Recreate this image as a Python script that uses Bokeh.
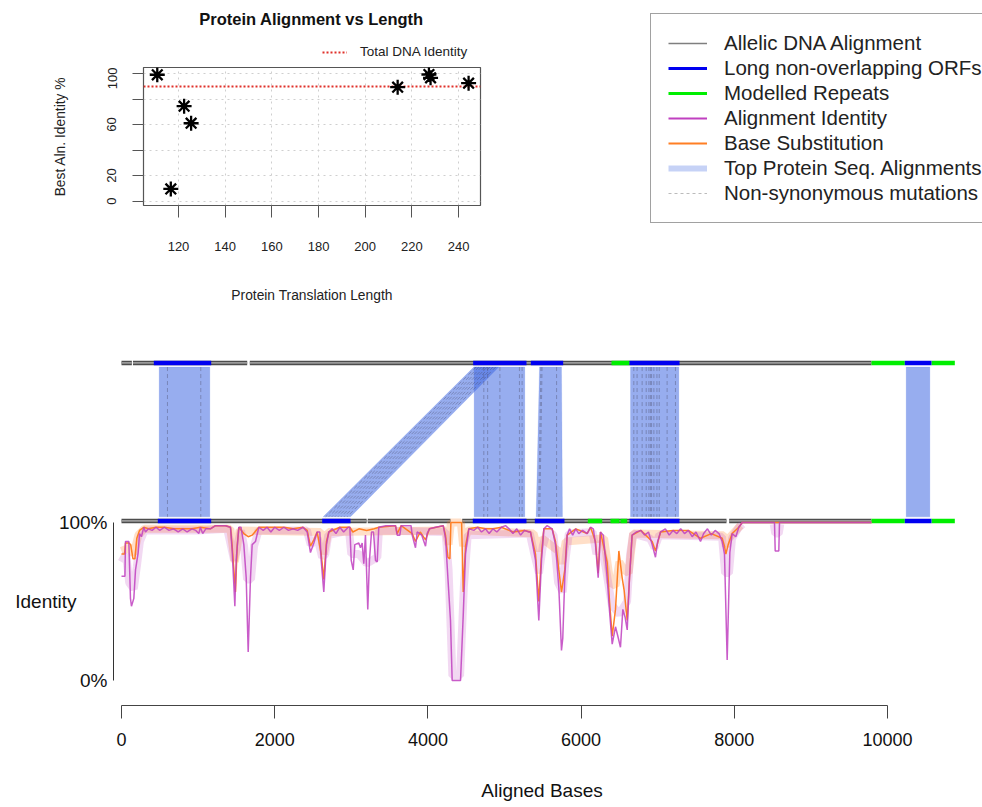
from bokeh.plotting import figure
from bokeh.layouts import column, row
from bokeh.models import Range1d, FixedTicker, Legend, LegendItem, LinearAxis, Label
from bokeh.embed import file_html
from bokeh.resources import INLINE

FONT = "Liberation Sans"
NAN = float("nan")

# ---------------- Inset scatter data ----------------
PROT_LEN = [110.9, 116.7, 122.4, 125.4, 213.9, 227.3, 228.0, 244.3]
PROT_IDENT = [99.0, 9.5, 74.4, 61.0, 89.3, 99.2, 96.6, 92.4]
TOTAL_DNA_IDENTITY = 89.8
SCATTER_X_TICKS = [120, 140, 160, 180, 200, 220, 240]
SCATTER_Y_TICKS = [0, 20, 40, 60, 80, 100]

# ---------------- Main plot data ----------------
TOP_TRACK = 201
BOTTOM_TRACK = 101

TOP_GREY_START = [0, 150, 1675]
TOP_GREY_END = [135, 1641, 9791]
TOP_ORF_START = [422, 4591, 5344, 6632, 10226]
TOP_ORF_END = [1171, 5287, 5766, 7285, 10574]
TOP_REP_START = [6397, 9791, 10574]
TOP_REP_END = [6632, 10226, 10879]

BOT_GREY_START = [0, 3215, 4448, 7933]
BOT_GREY_END = [3200, 4295, 7898, 9791]
BOT_ORF_START = [474, 2620, 4586, 5396, 6632, 10226]
BOT_ORF_END = [1171, 2990, 5287, 5783, 7285, 10574]
BOT_REP_START = [6088, 6384, 6514, 9791, 10574]
BOT_REP_END = [6275, 6501, 6601, 10226, 10879]

ALN_TOP_START = [492, 4600, 4604, 5457, 6645, 10244]
ALN_TOP_END = [1153, 4925, 5265, 5744, 7276, 10553]
ALN_BOT_START = [492, 2633, 4604, 5413, 6645, 10244]
ALN_BOT_END = [1153, 2990, 5265, 5757, 7276, 10553]

MUT_TOP = [600, 1035,
           4630, 4665, 4700, 4740, 4775, 4810, 4850, 4885,
           4730, 4780, 4940, 5195, 5230,
           5475, 5490, 5680,
           6688, 6731, 6797, 6850, 6885, 6905, 6920, 6950, 6990, 7020, 7123, 7232]
MUT_BOT = [600, 1035,
           2665, 2705, 2745, 2785, 2825, 2865, 2905, 2945,
           4730, 4780, 4940, 5195, 5230,
           5445, 5460, 5680,
           6688, 6731, 6797, 6850, 6885, 6905, 6920, 6950, 6990, 7020, 7123, 7232]

IDENT_POS = [0, 45, 52, 96, 117, 130, 161, 183, 218, 235, 260, 291, 313, 350, 400, 450, 500, 560,
             620, 680, 740, 800, 857, 920, 970, 1009, 1030, 1060, 1100, 1160, 1227, 1358, 1423,
             1445, 1480, 1497, 1532, 1560, 1597, 1628, 1654, 1684, 1706, 1749, 1793, 1850, 1900,
             1950, 2000, 2060, 2120, 2180, 2240, 2300, 2370, 2424, 2467, 2511, 2554, 2589, 2607,
             2641, 2676, 2707, 2750, 2800, 2850, 2900, 2960, 2981, 2999, 3025, 3046, 3098, 3120,
             3142, 3163, 3185, 3215, 3237, 3264, 3290, 3316, 3338, 3359, 3450, 3577, 3599, 3634,
             3651, 3780, 3795, 3838, 3860, 3920, 3969, 3990, 4020, 4100, 4200, 4230, 4261, 4295,
             4317, 4426, 4461, 4491, 4534, 4600, 4650, 4700, 4750, 4800, 4850, 4900, 4960, 5013,
             5060, 5110, 5160, 5210, 5260, 5318, 5339, 5361, 5405, 5448, 5483, 5514, 5557, 5622,
             5666, 5709, 5744, 5761, 5787, 5818, 5850, 5890, 5930, 5970, 6020, 6079, 6123, 6160,
             6188, 6223, 6253, 6290, 6340, 6371, 6406, 6449, 6480, 6514, 6545, 6575, 6602, 6632,
             6666, 6720, 6780, 6830, 6880, 6928, 6971, 7000, 7037, 7100, 7150, 7200, 7250, 7300,
             7350, 7400, 7450, 7500, 7559, 7600, 7650, 7700, 7750, 7800, 7842, 7872, 7907, 7942,
             7972, 8020, 8059, 8103, 8525, 8534, 8581, 8590, 9791]
IDENT_PCT = [66, 66, 88, 88, 52, 47, 52, 70, 81, 93, 91, 97, 94, 96, 95, 97, 95, 97,
             95, 96, 94, 96, 94, 96, 95, 93, 97, 93, 96, 96, 98, 98, 97,
             82, 47, 76, 97, 97, 86, 65, 18, 65, 86, 88, 97, 95, 97,
             94, 97, 95, 97, 95, 96, 95, 97, 94, 81, 87, 94, 94, 76,
             56, 86, 94, 96, 93, 97, 94, 97, 97, 76, 70, 86, 87, 84,
             87, 74, 92, 45, 76, 94, 94, 76, 75, 97, 98, 98, 92, 92,
             98, 98, 92, 84, 94, 92, 85, 93, 96, 97, 98, 90, 65, 38,
             0, 0, 41, 80, 96, 95, 97, 94, 96, 93, 96, 94, 97, 98,
             96, 93, 96, 92, 95, 94, 94, 88, 76, 38, 76, 96, 98, 96,
             86, 59, 19, 27, 65, 92, 96, 92, 96, 93, 95, 93, 97, 96,
             86, 65, 94, 92, 65, 44, 23, 34, 28, 21, 45, 40, 32, 65,
             92, 94, 95, 92, 94, 86, 78, 88, 94, 96, 92, 95, 93, 96,
             93, 95, 91, 94, 88, 93, 96, 92, 95, 93, 88, 80, 13, 81,
             93, 91, 97, 100, 100, 82, 82, 100, 100]

SUBST_POS = [0, 40, 52, 96, 120, 150, 175, 200, 235, 291, 350, 450, 560, 680, 800, 920, 1030,
             1160, 1227, 1358, 1423, 1445, 1488, 1510, 1532, 1597, 1654, 1706, 1793, 1900, 2000,
             2120, 2240, 2370, 2424, 2467, 2511, 2554, 2607, 2641, 2676, 2707, 2850, 2981, 3020,
             3100, 3200, 3300, 3359, 3577, 3599, 3651, 3795, 3838, 3900, 3969, 4020, 4200, 4230,
             4261, 4287, 4300, 4440, 4461, 4491, 4534, 4650, 4750, 4850, 4960, 5110, 5260, 5339,
             5405, 5448, 5483, 5514, 5622, 5666, 5709, 5744, 5787, 5818, 5930, 6079, 6123, 6188,
             6223, 6253, 6340, 6371, 6406, 6449, 6493, 6536, 6562, 6602, 6632, 6666, 6780, 6928,
             6971, 7037, 7200, 7400, 7559, 7700, 7842, 7872, 7890, 7920, 7972, 8059, 8103, 9791]
SUBST_PCT = [80, 80, 87, 87, 86, 77, 77, 90, 95, 97, 96, 97, 97, 96, 96, 96, 97,
             96, 98, 98, 97, 85, 56, 85, 97, 93, 91, 92, 97, 97, 97,
             97, 96, 97, 95, 85, 89, 94, 80, 64, 88, 94, 97, 97, 94,
             96, 95, 96, 97, 98, 93, 98, 93, 88, 94, 89, 96, 98, 92,
             78, 77, 100, 100, 56, 85, 96, 97, 96, 96, 97, 94, 95, 94,
             80, 50, 80, 96, 96, 88, 70, 56, 70, 92, 96, 93, 97, 88,
             68, 94, 75, 50, 28, 45, 82, 65, 57, 38, 65, 92, 95, 88,
             82, 94, 95, 95, 90, 93, 90, 85, 80, 86, 93, 97, 100, 100]

IDENT_BAND_POS = [0, 60, 100, 160, 200, 240, 300, 1000, 1380, 1430, 1470, 1510, 1560, 1600, 1640,
                  1690, 1730, 1790, 2420, 2470, 2560, 2620, 2660, 2700, 2970, 3000, 3100, 3200,
                  3340, 3360, 4230, 4270, 4320, 4420, 4470, 4520, 5330, 5380, 5450, 5500, 5560,
                  5640, 5700, 5760, 5800, 5840, 6150, 6200, 6250, 6320, 6400, 6500, 6600, 6640,
                  6680, 6900, 6960, 7020, 7840, 7880, 7930, 7970, 8060, 8110,
                  NAN, 8515, 8535, 8580, 8600]
IDENT_BAND_PCT = [75, 80, 62, 58, 72, 88, 95, 95, 96, 85, 76, 85, 95, 85, 64,
                  64, 85, 95, 95, 86, 90, 78, 80, 92, 95, 80, 80, 74,
                  78, 95, 94, 70, 3, 3, 60, 92, 93, 82, 68, 85, 95,
                  92, 62, 56, 78, 93, 94, 80, 88, 72, 48, 42, 50, 80,
                  93, 90, 84, 92, 91, 68, 68, 90, 97, 99,
                  NAN, 99, 93, 93, 99]

SUBST_BAND_POS = [0, 100, 160, 220, 300, 1420, 1480, 1540, 2600, 2640, 2700, 4230, 4270, 4300,
                  4430, 4460, 4520, 5380, 5440, 5490, 5700, 5750, 5800, 6300, 6380, 6450, 6500,
                  6560, 6620, 6680, 7860, 7890, 7930, 8080]
SUBST_BAND_PCT = [82, 84, 80, 92, 96, 96, 75, 95, 94, 80, 94, 95, 86, 100,
                  100, 85, 95, 93, 82, 90, 82, 74, 88, 90, 62, 60, 75,
                  70, 68, 93, 92, 85, 90, 98]

MAIN_X_TICKS = [0, 2000, 4000, 6000, 8000, 10000]

PURPLE = "#C040C0"
ORANGE = "#FF7F24"
BLUE = "#0000F0"
GREEN = "#00EE00"
DNA_RED = "#E0302A"


def blank_figure(w, h):
    f = figure(width=w, height=h, x_range=Range1d(0, 1), y_range=Range1d(0, 1),
               toolbar_location=None, output_backend="svg", min_border=0,
               x_axis_location=None, y_axis_location=None, outline_line_color=None)
    f.grid.visible = False
    return f


def proxy(f, **kw):
    # legend-only sample: one NaN point, so nothing is drawn in the plot area
    return f.line([NAN], [NAN], **kw)


# ================= Title strip above the inset =================
strip = blank_figure(640, 67)
strip.add_layout(Label(x=311, y=49, x_units="screen", y_units="screen",
                       text="Protein Alignment vs Length", text_align="center", text_baseline="middle",
                       text_font=FONT, text_font_size="16.5px", text_font_style="bold",
                       text_color="#111111"))
dna_proxy = proxy(strip, line_color=DNA_RED, line_dash="2 2", line_width=2)
strip.add_layout(Legend(items=[LegendItem(label="Total DNA Identity", renderers=[dna_proxy])],
                        location=(322, 8), border_line_color=None, background_fill_alpha=0,
                        padding=0, margin=0, glyph_width=25, label_standoff=13,
                        label_text_font=FONT, label_text_font_size="13.5px",
                        label_height=14, glyph_height=14, label_text_color="#222222"))

# ================= Inset scatter =================
sp = figure(width=640, height=243, x_range=Range1d(105, 249.4), y_range=Range1d(-3.5, 104.7),
            toolbar_location=None, output_backend="svg",
            min_border_left=143, min_border_right=160, min_border_top=0, min_border_bottom=105,
            outline_line_color="#555555", outline_line_width=1.2)
xt = FixedTicker(ticks=SCATTER_X_TICKS)
yt = FixedTicker(ticks=SCATTER_Y_TICKS)
sp.xaxis.ticker = xt
sp.yaxis.ticker = yt
sp.xgrid.ticker = xt
sp.ygrid.ticker = yt
sp.grid.grid_line_color = "#cfcfcf"
sp.grid.grid_line_dash = "dotted"
for ax in (sp.xaxis[0], sp.yaxis[0]):
    ax.axis_line_color = None
    ax.major_tick_in = 0
    ax.minor_tick_line_color = None
    ax.major_tick_line_color = "#555555"
    ax.major_label_text_font = FONT
    ax.major_label_text_font_size = "13px"
    ax.major_label_text_color = "#222222"
    ax.axis_label_text_font = FONT
    ax.axis_label_text_font_size = "13.8px"
    ax.axis_label_text_font_style = "normal"
    ax.axis_label_text_color = "#222222"
sp.xaxis.major_tick_out = 12
sp.xaxis.major_label_standoff = 24
sp.xaxis.axis_label = "Protein Translation Length"
sp.xaxis.axis_label_standoff = 34
sp.yaxis.major_tick_out = 11
sp.yaxis.major_label_orientation = "vertical"
sp.yaxis.major_label_overrides = {40: "", 80: ""}
sp.yaxis.major_label_standoff = 16
sp.yaxis.axis_label = "Best Aln. Identity %"
sp.yaxis.axis_label_standoff = 37

sp.hspan(y=[TOTAL_DNA_IDENTITY], line_color=DNA_RED, line_dash="2 2", line_width=2)
sp.scatter(PROT_LEN, PROT_IDENT, marker="asterisk", size=15, line_width=2.3, line_color="black")

# ================= Big legend =================
lg = blank_figure(342, 310)
r1 = proxy(lg, line_color="#7f7f7f", line_width=1.5)
r2 = proxy(lg, line_color=BLUE, line_width=3)
r3 = proxy(lg, line_color=GREEN, line_width=3)
r4 = proxy(lg, line_color=PURPLE, line_width=2)
r5 = proxy(lg, line_color=ORANGE, line_width=2)
r6 = proxy(lg, line_color="royalblue", line_alpha=0.3, line_width=6)
r7 = proxy(lg, line_color="#bbbbbb", line_dash="3 3", line_width=1)
lg.add_layout(Legend(items=[
    LegendItem(label="Allelic DNA Alignment", renderers=[r1]),
    LegendItem(label="Long non-overlapping ORFs", renderers=[r2]),
    LegendItem(label="Modelled Repeats", renderers=[r3]),
    LegendItem(label="Alignment Identity", renderers=[r4]),
    LegendItem(label="Base Substitution", renderers=[r5]),
    LegendItem(label="Top Protein Seq. Alignments", renderers=[r6]),
    LegendItem(label="Non-synonymous mutations", renderers=[r7]),
], location=(10, 87), border_line_color="#444444", border_line_width=1,
    padding=17, margin=0, spacing=1, label_height=20, glyph_height=20, glyph_width=39,
    label_standoff=17, label_text_font=FONT, label_text_font_size="20.5px",
    label_text_color="#222222", background_fill_color="white"))

# ================= Main alignment plot =================
mp = figure(width=982, height=497, x_range=Range1d(-104.4, 11083.6), y_range=Range1d(-15.82, 234.18),
            toolbar_location=None, output_backend="svg",
            min_border_left=113, min_border_right=12, min_border_top=0, min_border_bottom=102,
            outline_line_color=None)
mp.grid.visible = False

aln_xs = [[ts, te, be, bs] for ts, te, bs, be in zip(ALN_TOP_START, ALN_TOP_END, ALN_BOT_START, ALN_BOT_END)]
aln_ys = [[TOP_TRACK - 2.6, TOP_TRACK - 2.6, BOTTOM_TRACK + 2.6, BOTTOM_TRACK + 2.6] for _ in aln_xs]
mp.patches(aln_xs, aln_ys, fill_color="royalblue", fill_alpha=0.55,
           line_color="royalblue", line_alpha=0.15, line_width=1)
mp.segment(x0=MUT_TOP, y0=[TOP_TRACK - 2.6] * len(MUT_TOP), x1=MUT_BOT, y1=[BOTTOM_TRACK + 2.6] * len(MUT_BOT),
           line_color="#4a4a66", line_alpha=0.4, line_dash="4 3", line_width=1)

def track(starts, ends, yv, color, width):
    mp.segment(x0=starts, x1=ends, y0=[yv] * len(starts), y1=[yv] * len(starts),
               line_color=color, line_width=width, line_cap="butt")

track(TOP_GREY_START, TOP_GREY_END, TOP_TRACK, "#4d4d4d", 4.5)
track(TOP_GREY_START, TOP_GREY_END, TOP_TRACK, "#9a9a9a", 1.8)
track(BOT_GREY_START, BOT_GREY_END, BOTTOM_TRACK, "#4d4d4d", 4.5)
track(BOT_GREY_START, BOT_GREY_END, BOTTOM_TRACK, "#9a9a9a", 1.8)
track(TOP_REP_START, TOP_REP_END, TOP_TRACK, GREEN, 4.5)
track(BOT_REP_START, BOT_REP_END, BOTTOM_TRACK, GREEN, 4.5)
track(TOP_ORF_START, TOP_ORF_END, TOP_TRACK, BLUE, 4.5)
track(BOT_ORF_START, BOT_ORF_END, BOTTOM_TRACK, BLUE, 4.5)

mp.line(SUBST_BAND_POS, SUBST_BAND_PCT, line_color=ORANGE, line_alpha=0.25, line_width=8)
mp.line(IDENT_BAND_POS, IDENT_BAND_PCT, line_color=PURPLE, line_alpha=0.2, line_width=8)
mp.line(SUBST_POS, SUBST_PCT, line_color=ORANGE, line_width=1.5)
mp.line(IDENT_POS, IDENT_PCT, line_color=PURPLE, line_alpha=0.85, line_width=1.5)

xa = mp.xaxis[0]
xa.ticker = FixedTicker(ticks=MAIN_X_TICKS)
xa.bounds = (0, 10000)
xa.major_tick_out = 13
xa.major_tick_in = 0
xa.minor_tick_line_color = None
xa.axis_line_color = "#444444"
xa.major_tick_line_color = "#444444"
xa.major_label_standoff = 14
xa.major_label_text_font = FONT
xa.major_label_text_font_size = "18px"
xa.major_label_text_color = "#111111"
xa.axis_label = "Aligned Bases"
xa.axis_label_standoff = 31
xa.axis_label_text_font = FONT
xa.axis_label_text_font_size = "19px"
xa.axis_label_text_font_style = "normal"
xa.axis_label_text_color = "#111111"

ya = mp.yaxis[0]
ya.ticker = FixedTicker(ticks=[0, 100])
ya.bounds = (0, 100)
ya.major_label_overrides = {0: "0%", 100: "100%"}
ya.major_tick_out = 0
ya.major_tick_in = 0
ya.minor_tick_line_color = None
ya.axis_line_color = "#333333"
ya.major_label_standoff = 6
ya.major_label_text_font = FONT
ya.major_label_text_font_size = "19px"
ya.major_label_text_color = "#111111"

ident_axis = LinearAxis(ticker=FixedTicker(ticks=[50]), major_label_overrides={50: "Identity"},
                        axis_line_color=None, major_tick_line_color=None, minor_tick_line_color=None,
                        major_label_standoff=-27, major_label_text_font=FONT,
                        major_label_text_font_size="19px", major_label_text_color="#111111")
mp.add_layout(ident_axis, "left")

top_left = column(row(strip), row(sp), spacing=0)
top = row(top_left, column(row(lg)), spacing=0)
layout = column(top, row(mp), spacing=0)
open("out.html", "w").write(file_html(layout, INLINE))
